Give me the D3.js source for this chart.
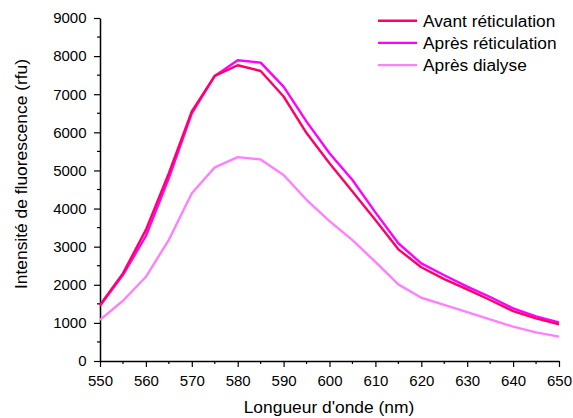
<!DOCTYPE html>
<html><head><meta charset="utf-8">
<script src="https://cdn.jsdelivr.net/npm/d3@7"></script>
<style>body{margin:0;background:#fff;} svg{display:block;font-family:"Liberation Sans",Arial,sans-serif;}</style>
</head><body><svg id="c" width="573" height="418"></svg>
<script>
const wavelengths = [550,555,560,565,570,575,580,585,590,595,600,605,610,615,620,625,630,635,640,645,650];
const avant   = [1470,2300,3440,4930,6550,7480,7760,7610,6940,5980,5190,4450,3700,2930,2460,2150,1880,1600,1310,1120,960];
const apres   = [1450,2260,3280,4800,6500,7480,7890,7830,7200,6280,5450,4750,3900,3090,2560,2250,1950,1680,1380,1170,1010];
const dialyse = [1080,1580,2210,3180,4400,5080,5350,5290,4880,4230,3670,3170,2600,2010,1660,1470,1280,1090,900,750,640];
const seriesNames = ["Avant réticulation","Après réticulation","Après dialyse"];
const seriesColors = ["#FF0066","#FF00FF","#FF80FF"];
const yTicks = [0,1000,2000,3000,4000,5000,6000,7000,8000,9000];
const xTicks = [550,560,570,580,590,600,610,620,630,640,650];

const svg = d3.select("#c");
const x = d3.scaleLinear().domain([550,650]).range([100,559]);
const y = d3.scaleLinear().domain([0,9000]).range([361,18]);

// minor ticks
const yMinor = d3.range(500,9000,1000);
const xMinor = d3.range(555,650,10);
svg.append("g").selectAll("line").data(yMinor).join("line")
  .attr("x1",x(550)-3).attr("x2",x(550)).attr("y1",d=>y(d)).attr("y2",d=>y(d))
  .attr("stroke","#000").attr("stroke-width",1.2);
svg.append("g").selectAll("line").data(xMinor).join("line")
  .attr("y1",y(0)).attr("y2",y(0)+3).attr("x1",d=>x(d)).attr("x2",d=>x(d))
  .attr("stroke","#000").attr("stroke-width",1.2);

const yAxis = svg.append("g").attr("transform",`translate(${x(550)},0)`)
  .call(d3.axisLeft(y).tickValues(yTicks).tickSize(6).tickSizeOuter(0).tickPadding(7.5).tickFormat(d3.format("d")));
const xAxis = svg.append("g").attr("transform",`translate(0,${y(0)})`)
  .call(d3.axisBottom(x).tickValues(xTicks).tickSize(6).tickSizeOuter(0).tickPadding(8).tickFormat(d3.format("d")));
[yAxis,xAxis].forEach(g=>{
  g.select(".domain").attr("stroke","#000").attr("stroke-width",1.5);
  g.selectAll(".tick line").attr("stroke","#000").attr("stroke-width",1.2);
  g.selectAll(".tick text").attr("fill","#000").style("font-size","15px").style("font-family","'Liberation Sans',Arial,sans-serif");
});

const line = d3.line().x((d,i)=>x(wavelengths[i])).y(d=>y(d));
const allSeries = [avant,apres,dialyse];
[2,1,0].forEach(k=>{
  svg.append("path").datum(allSeries[k]).attr("d",line)
    .attr("fill","none").attr("stroke",seriesColors[k]).attr("stroke-width",2.4)
    .attr("stroke-linejoin","round");
});

// legend
const lg = svg.append("g");
seriesNames.forEach((n,i)=>{
  const yy = 20.7 + i*22.2;
  lg.append("line").attr("x1",378).attr("x2",417).attr("y1",yy).attr("y2",yy)
    .attr("stroke",seriesColors[i]).attr("stroke-width",2.4);
  lg.append("text").attr("x",423).attr("y",yy).attr("dy","0.36em")
    .style("font-size","17.3px").attr("fill","#000").text(n);
});

svg.append("text").attr("x",329).attr("y",413).attr("text-anchor","middle")
  .style("font-size","17.4px").attr("fill","#000").text("Longueur d'onde (nm)");
svg.append("text").attr("transform","translate(27,174) rotate(-90)").attr("text-anchor","middle")
  .style("font-size","17.4px").attr("fill","#000").text("Intensité de fluorescence (rfu)");
</script></body></html>
